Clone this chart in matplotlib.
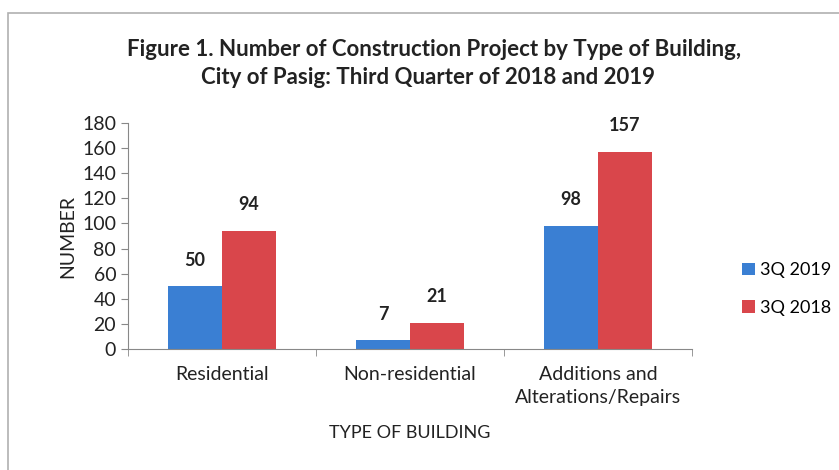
import matplotlib.pyplot as plt
import matplotlib.patches as mpatches
import numpy as np

categories = ['Residential', 'Non-residential', 'Additions and\nAlterations/Repairs']
series_names = ['3Q 2019', '3Q 2018']
values_2019 = [50, 7, 98]
values_2018 = [94, 21, 157]
colors = ['#3a7fd3', '#d9464b']

plt.rcParams['font.family'] = ['Lato', 'DejaVu Sans']

fig = plt.figure(figsize=(8.39, 4.7), dpi=100)
ax = fig.add_axes([128 / 839, 1 - 349 / 470, (692 - 128) / 839, (349 - 123) / 470])

# outer frame of the chart area
fig.patches.append(mpatches.Rectangle((8 / 839, -0.05), 1.1, 1 - 13 / 470 + 0.05,
                                      transform=fig.transFigure, fill=False,
                                      edgecolor='#b0b0b0', linewidth=1.2))

x = np.arange(len(categories))
w = 0.287
b1 = ax.bar(x - w / 2, values_2019, w, color=colors[0], label=series_names[0])
b2 = ax.bar(x + w / 2, values_2018, w, color=colors[1], label=series_names[1])

for bars in (b1, b2):
    for rect in bars:
        h = rect.get_height()
        ax.text(rect.get_x() + rect.get_width() / 2, h + 14, f'{h:g}',
                ha='center', va='bottom', fontsize=13, fontweight='bold', color='#222222')

ax.set_xlim(-0.5, 2.5)
ax.set_ylim(0, 180)
ax.set_yticks(range(0, 181, 20))
ax.set_xticks([-0.5, 0.5, 1.5, 2.5], minor=True)
ax.set_xticks(x)
ax.set_xticklabels(categories, fontsize=14, color='#222222', linespacing=1.45)
ax.tick_params(axis='x', which='major', length=0, pad=12)
ax.tick_params(axis='x', which='minor', length=5, color='#888888')
ax.tick_params(axis='y', labelsize=14, length=5, color='#888888', labelcolor='#222222')
for s in ['top', 'right']:
    ax.spines[s].set_visible(False)
for s in ['left', 'bottom']:
    ax.spines[s].set_color('#888888')

ax.set_ylabel('NUMBER', fontsize=14, color='#222222', labelpad=4)
ax.set_xlabel('TYPE OF BUILDING', fontsize=13, color='#222222', labelpad=14)

fig.text(0.517, 0.895, 'Figure 1. Number of Construction Project by Type of Building,',
         ha='center', va='center', fontsize=16, fontweight='bold', color='#222222')
fig.text(0.51, 0.835, 'City of Pasig: Third Quarter of 2018 and 2019',
         ha='center', va='center', fontsize=16, fontweight='bold', color='#222222')

fig.legend(handles=[b1, b2], labels=series_names, loc='center left',
           bbox_to_anchor=(0.865, 0.385), frameon=False, fontsize=13,
           handlelength=0.7, handleheight=0.7, handletextpad=0.3, labelspacing=1.2)

fig.savefig('out.png', dpi=100)
